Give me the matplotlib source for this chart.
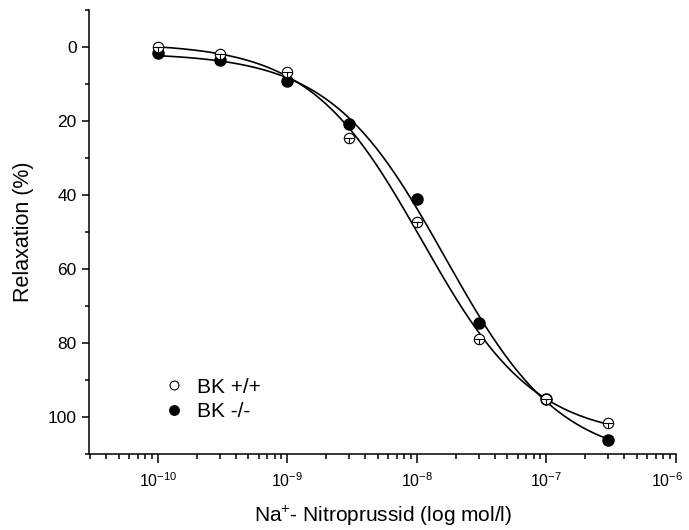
import numpy as np
import matplotlib
matplotlib.use("Agg")
import matplotlib.pyplot as plt
import matplotlib.transforms as mtransforms
from matplotlib.ticker import FixedLocator, LogLocator, NullFormatter, MultipleLocator

plt.rcParams['font.family'] = ['Liberation Sans', 'DejaVu Sans']
plt.rcParams['mathtext.fontset'] = 'custom'
plt.rcParams['mathtext.rm'] = 'Liberation Sans'
plt.rcParams['mathtext.it'] = 'Liberation Sans:italic'

conc = [1e-10, 3e-10, 1e-9, 3e-9, 1e-8, 3e-8, 1e-7, 3e-7]
wt_vals = [0.0, 1.8, 6.8, 24.5, 47.2, 78.9, 95.0, 101.6]
ko_vals = [1.6, 3.5, 9.1, 20.7, 41.0, 74.6, 95.0, 106.1]
wt_err = [1.5, 1.5, 1.5, 1.5, 1.5, 1.5, 1.5, 1.5]
labels = ["BK +/+", "BK -/-"]
x_ticks = [1e-10, 1e-9, 1e-8, 1e-7, 1e-6]
x_ticklabels = ["$10^{-10}$", "$10^{-9}$", "$10^{-8}$", "$10^{-7}$", "$10^{-6}$"]


def hill(p, lx):
    b, t, lec, n = p
    return b + (t - b) / (1.0 + 10 ** ((lec - lx) * n))


def fit_hill(x, y):
    lx = np.log10(np.asarray(x))
    y = np.asarray(y)
    p = np.array([0.0, 105.0, -8.0, 1.0])
    lam = 1e-2
    for _ in range(500):
        r = y - hill(p, lx)
        J = np.zeros((len(lx), 4))
        for k in range(4):
            dp = np.zeros(4)
            dp[k] = 1e-6
            J[:, k] = (hill(p + dp, lx) - hill(p - dp, lx)) / 2e-6
        A = J.T @ J
        g = J.T @ r
        step = np.linalg.solve(A + lam * np.diag(np.diag(A)), g)
        pn = p + step
        if np.sum((y - hill(pn, lx)) ** 2) < np.sum(r ** 2):
            p = pn
            lam *= 0.5
        else:
            lam *= 4
    return p


fig = plt.figure(figsize=(6.89, 5.30), dpi=100)
ax = fig.add_axes([0.1296, 0.1434, 0.8514, 0.8377])

xs = np.logspace(-10, np.log10(3e-7), 300)
for vals in (wt_vals, ko_vals):
    p = fit_hill(conc, vals)
    ax.plot(xs, hill(p, np.log10(xs)), color='black', lw=1.2, zorder=2)

# error bars (small, inside markers)
ax.errorbar(conc, wt_vals, yerr=[np.zeros(len(wt_err)), wt_err], fmt='none',
            ecolor='black', elinewidth=0.8, capsize=0, zorder=5)
ax.plot(conc, wt_vals, linestyle='none', marker='o', markersize=7.5,
        markerfacecolor='white', markeredgecolor='black', markeredgewidth=0.8,
        zorder=4, label=labels[0])
ax.plot(conc, wt_vals, linestyle='none', marker='_', markersize=7,
        color='black', markeredgewidth=0.8, zorder=5)
ax.plot(conc, ko_vals, linestyle='none', marker='o', markersize=8,
        markerfacecolor='black', markeredgecolor='black',
        zorder=3, label=labels[1])

ax.set_xscale('log')
ax.set_xlim(2.96e-11, 1e-6)
ax.set_ylim(110, -10)

ax.xaxis.set_major_locator(FixedLocator(x_ticks))
ax.set_xticklabels(x_ticklabels)
ax.xaxis.set_minor_locator(LogLocator(base=10, subs=np.arange(2, 10), numticks=20))
ax.xaxis.set_minor_formatter(NullFormatter())
ax.yaxis.set_major_locator(MultipleLocator(20))
ax.yaxis.set_minor_locator(MultipleLocator(10))

for s in ('top', 'right'):
    ax.spines[s].set_visible(False)
for s in ('left', 'bottom'):
    ax.spines[s].set_linewidth(1.1)

ax.tick_params(axis='x', which='major', direction='out', length=6.5, width=1.1,
               labelsize=11.5, pad=6)
ax.tick_params(axis='x', which='minor', direction='out', length=3.5, width=1.1)
ax.tick_params(axis='y', which='major', direction='out', length=5, width=1.1,
               labelsize=12.5, pad=4)
ax.tick_params(axis='y', which='minor', direction='out', length=3, width=1.1)

# keep the last x tick label inside the canvas
last_lab = ax.xaxis.get_major_ticks()[-1].label1
last_lab.set_transform(last_lab.get_transform() +
                       mtransforms.ScaledTranslation(-6 / 72, 0, fig.dpi_scale_trans))

ax.set_xlabel("Na$^{+}$- Nitroprussid (log mol/l)", fontsize=15, labelpad=10)
ax.set_ylabel("Relaxation (%)", fontsize=15.5, labelpad=10)

leg = ax.legend(loc='lower left', bbox_to_anchor=(0.112, 0.056), frameon=False,
                fontsize=15, handletextpad=0.6, labelspacing=0.25,
                handlelength=1.0, borderaxespad=0, markerscale=0.85)

fig.savefig("out.png", dpi=100)
